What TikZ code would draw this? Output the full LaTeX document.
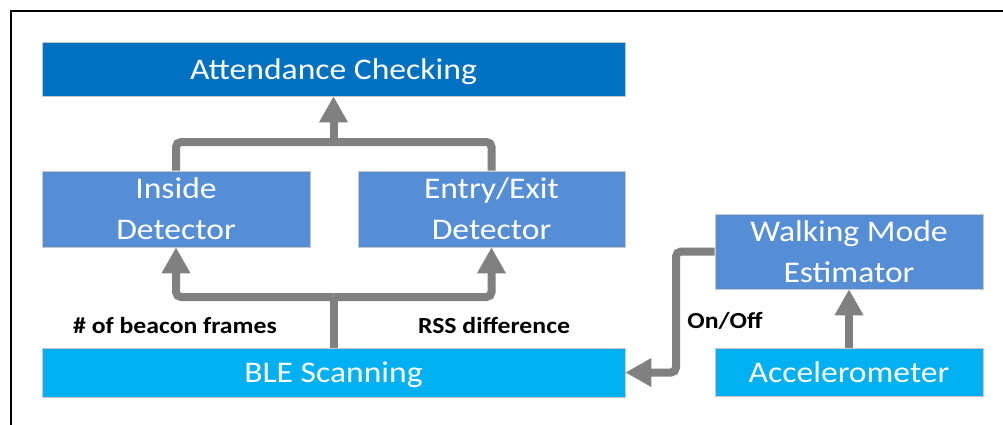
\documentclass[tikz,border=0pt]{standalone}
\usepackage{fontspec}
\setmainfont{Carlito}[FakeStretch=1.12]
\usetikzlibrary{arrows.meta}
\definecolor{cdark}{HTML}{0070C0}
\definecolor{cmid}{HTML}{558ED5}
\definecolor{clight}{HTML}{00B0F0}
\definecolor{cgrey}{HTML}{808080}
\tikzset{
  box/.style={draw=black!22, line width=0.6pt, text=white, align=center,
    inner sep=0pt, font=\fontsize{30}{41}\selectfont},
  lbl/.style={anchor=base, inner sep=0pt, font=\fontsize{23}{27}\selectfont\bfseries},
  gline/.style={draw=cgrey, line width=8pt, rounded corners=5pt},
  garrow/.style={gline, -{Triangle[width=27pt,length=26pt]}},
}
\begin{document}
\begin{tikzpicture}[x=1pt,y=-1pt]
\useasboundingbox (0,0) rectangle (1003,424);
\fill[white] (0,0) rectangle (1003,424);
\draw[line width=2pt] (11,440) -- (11,11) -- (1020,11);

\node[box, fill=cdark, minimum width=583pt, minimum height=54pt, text depth=0pt] (att) at (333.5,69) {Attendance Checking};
\node[box, fill=cmid, minimum width=268pt, minimum height=76pt] (ins) at (176,209) {Inside\\Detector};
\node[box, fill=cmid, minimum width=267pt, minimum height=76pt] (ent) at (491.5,209) {Entry/Exit\\Detector};
\node[box, fill=cmid, minimum width=268pt, minimum height=75pt] (wme) at (849,251.5) {Walking Mode\\Estimator};
\node[box, fill=clight, minimum width=268pt, minimum height=48pt] (acc) at (849,372) {Accelerometer};
\node[box, fill=clight, minimum width=583pt, minimum height=49pt, text depth=0pt] (ble) at (333.5,372.5) {BLE Scanning};

\coordinate (j1) at (333.5,142);
\coordinate (j2) at (333.5,297);
\coordinate (k) at (676,251.5);

\draw[gline] (ins.north) |- (j1) -| (ent.north);
\draw[garrow] (j1) -- (att.south);

\draw[gline] (ble.north) -- (j2);
\draw[garrow] (j2) -| (ins.south);
\draw[garrow] (j2) -| (ent.south);

\draw[garrow] (wme.west) -- (k) |- (ble.east);
\draw[garrow] (acc.north) -- (wme.south);

\node[lbl] (l1) at (175,333) {\# of beacon frames};
\node[lbl] (l2) at (494,333) {RSS difference};
\node[lbl] (l3) at (725,328) {On/Off};
\end{tikzpicture}
\end{document}
